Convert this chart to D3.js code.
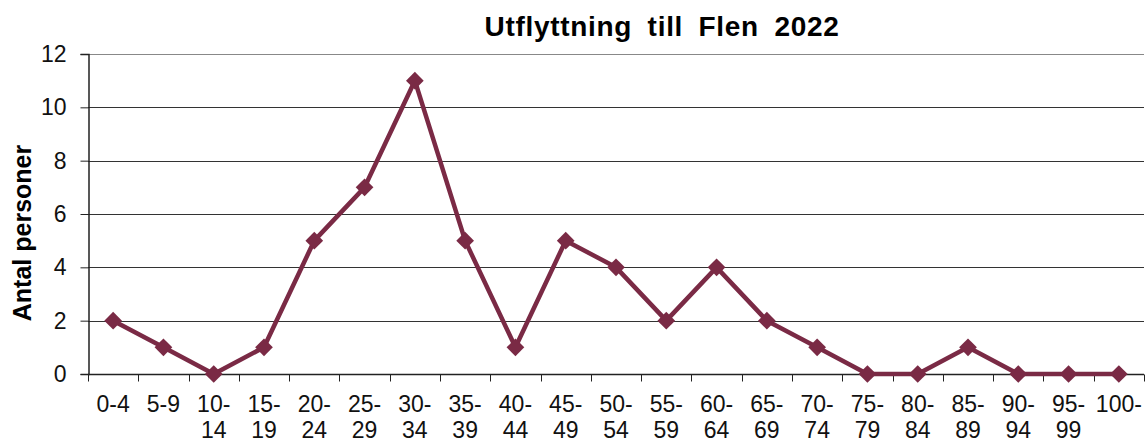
<!DOCTYPE html>
<html><head><meta charset="utf-8">
<script src="https://d3js.org/d3.v7.min.js"></script>
<style>body{margin:0;background:#fff}svg{display:block}text{font-family:"Liberation Sans",Arial,sans-serif}</style>
</head><body>
<script>
const categories = ["0-4","5-9","10-14","15-19","20-24","25-29","30-34","35-39","40-44","45-49","50-54","55-59","60-64","65-69","70-74","75-79","80-84","85-89","90-94","95-99","100-"];
const values = [2,1,0,1,5,7,11,5,1,5,4,2,4,2,1,0,0,1,0,0,0];
const yTicks = [0,2,4,6,8,10,12];
const title = "Utflyttning till Flen 2022";
const yTitle = "Antal personer";

const W = 1146, H = 441;
const m = {left: 88, right: 2, top: 54, bottom: 67};
const svg = d3.select("body").append("svg").attr("width", W).attr("height", H);
const x = d3.scaleBand().domain(categories).range([m.left, W - m.right]);
const y = d3.scaleLinear().domain([0, 12]).range([H - m.bottom, m.top]);

// gridlines
svg.append("g").selectAll("line").data(yTicks.filter(d => d > 0)).join("line")
  .attr("x1", m.left).attr("x2", W - m.right)
  .attr("y1", d => Math.round(y(d)) + 0.5).attr("y2", d => Math.round(y(d)) + 0.5)
  .attr("stroke", d => d === 12 ? "#888" : "#333").attr("stroke-width", 1);

// y axis
const ya = svg.append("g").attr("transform", `translate(${m.left + 0.5},0)`)
  .call(d3.axisLeft(y).tickValues(yTicks).tickSize(8).tickPadding(14));
ya.select(".domain").attr("stroke", "#222").attr("stroke-width", 1.5);
ya.selectAll(".tick line").attr("stroke", "#222");
ya.selectAll("text").attr("font-size", 23).attr("fill", "#111").attr("font-family", '"Liberation Sans",Arial,sans-serif');

// x axis
const xa = svg.append("g").attr("transform", `translate(0,${Math.round(y(0)) + 0.5})`);
xa.append("line").attr("x1", m.left).attr("x2", W - m.right).attr("stroke", "#222").attr("stroke-width", 1.5);
const bounds = categories.map(c => x(c)).concat([x(categories[categories.length - 1]) + x.bandwidth()]);
xa.selectAll("line.tk").data(bounds).join("line").attr("class", "tk")
  .attr("x1", d => Math.round(d) + 0.5).attr("x2", d => Math.round(d) + 0.5)
  .attr("y1", 0).attr("y2", 7).attr("stroke", "#222");
const lbl = xa.selectAll("text").data(categories).join("text")
  .attr("text-anchor", "middle").attr("font-size", 23).attr("fill", "#111")
  .attr("transform", d => `translate(${x(d) + x.bandwidth() / 2},0)`);
lbl.each(function(d) {
  const t = d3.select(this);
  const m2 = d.match(/^(\d+-)(\d+)$/);
  const parts = (m2 && d.length > 3) ? [m2[1], m2[2]] : [d];
  parts.forEach((p, i) => t.append("tspan").attr("x", 0).attr("y", 37 + i * 26).text(p));
});

// line
const color = "#7a2a45";
const line = d3.line().x((d, i) => x(categories[i]) + x.bandwidth() / 2).y(d => y(d));
svg.append("path").datum(values).attr("d", line).attr("fill", "none")
  .attr("stroke", color).attr("stroke-width", 4.5).attr("stroke-linejoin", "round");
svg.append("g").selectAll("path").data(values).join("path")
  .attr("d", d3.symbol(d3.symbolDiamond2, 200))
  .attr("transform", (d, i) => `translate(${x(categories[i]) + x.bandwidth() / 2},${y(d)})`)
  .attr("fill", color);

// title
svg.append("text").attr("x", 662).attr("y", 36).attr("text-anchor", "middle")
  .attr("font-size", 28).attr("font-weight", "bold").attr("fill", "#000")
  .attr("word-spacing", 7).attr("letter-spacing", 0.7).text(title);
// y title
svg.append("text").attr("transform", `translate(31,233) rotate(-90)`).attr("text-anchor", "middle")
  .attr("font-size", 25).attr("font-weight", "bold").attr("fill", "#000").text(yTitle);
</script>
</body></html>
